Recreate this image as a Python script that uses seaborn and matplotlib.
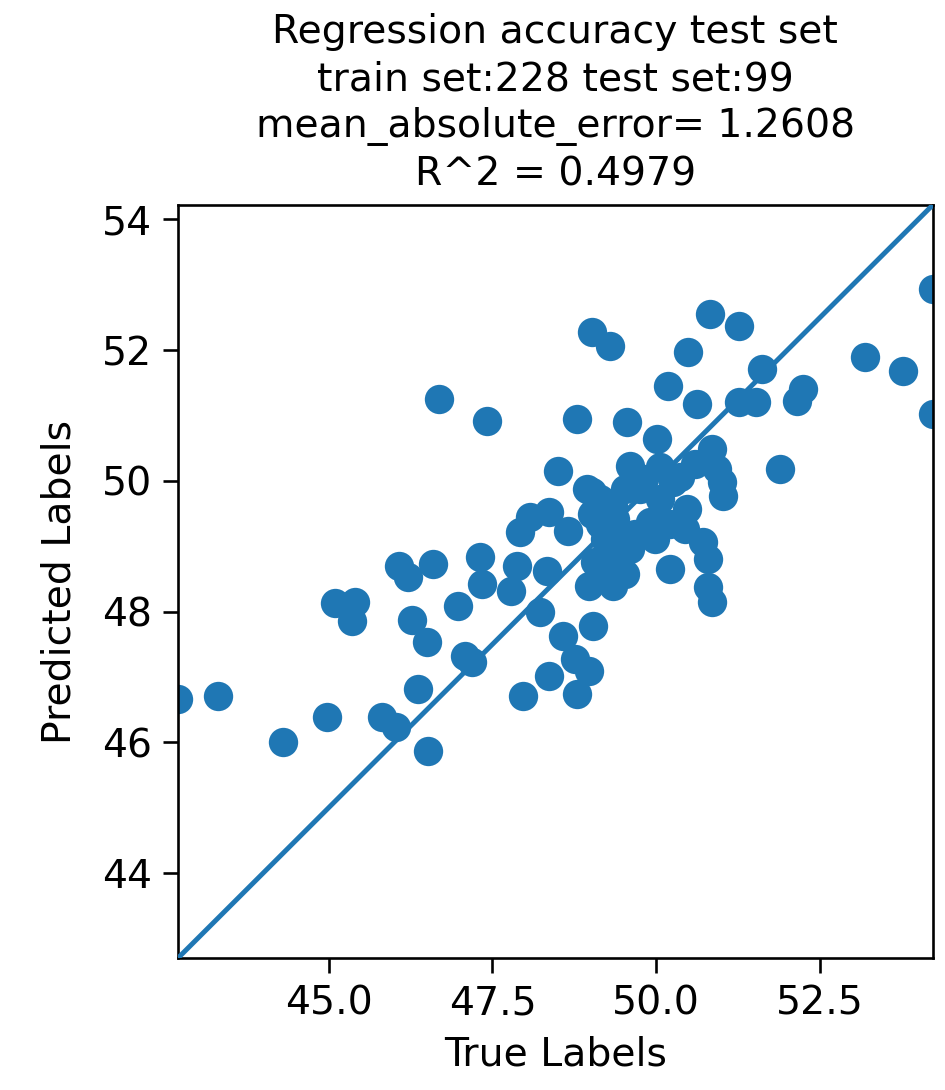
import numpy as np
import pandas as pd
import matplotlib
matplotlib.use("Agg")
import matplotlib.pyplot as plt
import seaborn as sns

# true vs predicted values
true_labels = [
    42.70, 43.31, 44.30, 44.98, 45.81, 46.02, 46.36, 46.51, 45.09, 45.40,
    45.35, 46.07, 46.21, 46.27, 46.50, 46.97, 47.08, 47.18, 47.31, 47.34,
    46.59, 47.96, 48.22, 47.87, 47.79, 48.33, 48.57, 47.92, 48.07, 48.37,
    48.65, 49.06, 48.98, 49.03, 48.36, 48.76, 48.79, 48.98, 46.69, 47.41,
    48.79, 48.50, 49.02, 49.02, 49.29, 50.48, 50.82, 51.27, 53.18, 53.76,
    54.22, 54.22, 50.18, 50.62, 51.61, 51.27, 51.53, 52.24, 52.15, 49.56,
    50.01, 49.60, 50.85, 50.92, 51.00, 51.02, 51.89, 50.21, 50.71, 50.79,
    50.79, 50.85, 49.34,
    48.94, 49.14, 49.34, 50.05, 50.25, 50.47, 49.90, 49.44, 49.24, 49.75,
    49.52, 50.05, 49.14, 49.32, 49.67, 50.21, 49.82, 49.37, 50.59, 50.36,
    49.21, 49.60, 49.98, 50.44, 49.02, 49.52,
]
predicted_labels = [
    46.66, 46.71, 46.00, 46.38, 46.38, 46.23, 46.81, 45.86, 48.13, 48.15,
    47.85, 48.70, 48.53, 47.87, 47.53, 48.08, 47.32, 47.23, 48.83, 48.42,
    48.73, 46.71, 47.99, 48.70, 48.31, 48.62, 47.62, 49.22, 49.45, 49.52,
    49.23, 48.76, 48.39, 47.78, 47.01, 47.27, 46.74, 47.09, 51.25, 50.92,
    50.95, 50.15, 49.83, 52.28, 52.07, 51.97, 52.56, 52.37, 51.90, 51.68,
    52.94, 51.02, 51.45, 51.18, 51.71, 51.21, 51.21, 51.41, 51.22, 50.90,
    50.64, 50.23, 50.49, 50.18, 49.98, 49.77, 50.18, 48.65, 49.06, 48.80,
    48.38, 48.15, 48.39,
    49.88, 49.72, 49.62, 50.21, 49.98, 49.57, 49.37, 49.11, 48.50, 49.88,
    49.88, 49.72, 49.34, 48.88, 49.19, 49.34, 50.03, 49.42, 50.26, 50.06,
    49.11, 48.96, 49.11, 49.26, 49.49, 48.57,
]

n_train = 228
n_test = 99
mae = 1.2608
r2 = 0.4979

df = pd.DataFrame({"true": true_labels, "pred": predicted_labels})
lims = [df["true"].min(), df["true"].max()]

dpi = 236.25
fig = plt.figure(figsize=(945 / dpi, 1090 / dpi), dpi=dpi)
ax = fig.add_axes([0.1884, 0.1211, 0.7986, 0.6908])

sns.scatterplot(data=df, x="true", y="pred", ax=ax, color="#1f77b4",
                s=80, linewidth=0, zorder=2)
sns.lineplot(x=lims, y=lims, ax=ax, color="#1f77b4", linewidth=1.5, zorder=3)

ax.set_xlim(lims)
ax.set_ylim(lims)
ax.set_xticks([45.0, 47.5, 50.0, 52.5])
ax.set_yticks([44, 46, 48, 50, 52, 54])
ax.tick_params(labelsize=12, length=4.5)
ax.set_xlabel("True Labels", fontsize=12)
ax.set_ylabel("Predicted Labels", fontsize=12, labelpad=7)
ax.set_title("Regression accuracy test set\n"
             f"train set:{n_train} test set:{n_test}\n"
             f"mean_absolute_error= {mae:.4f}\n"
             f"R^2 = {r2:.4f}", fontsize=12, linespacing=1.3)

fig.savefig("out.png", dpi=dpi)
